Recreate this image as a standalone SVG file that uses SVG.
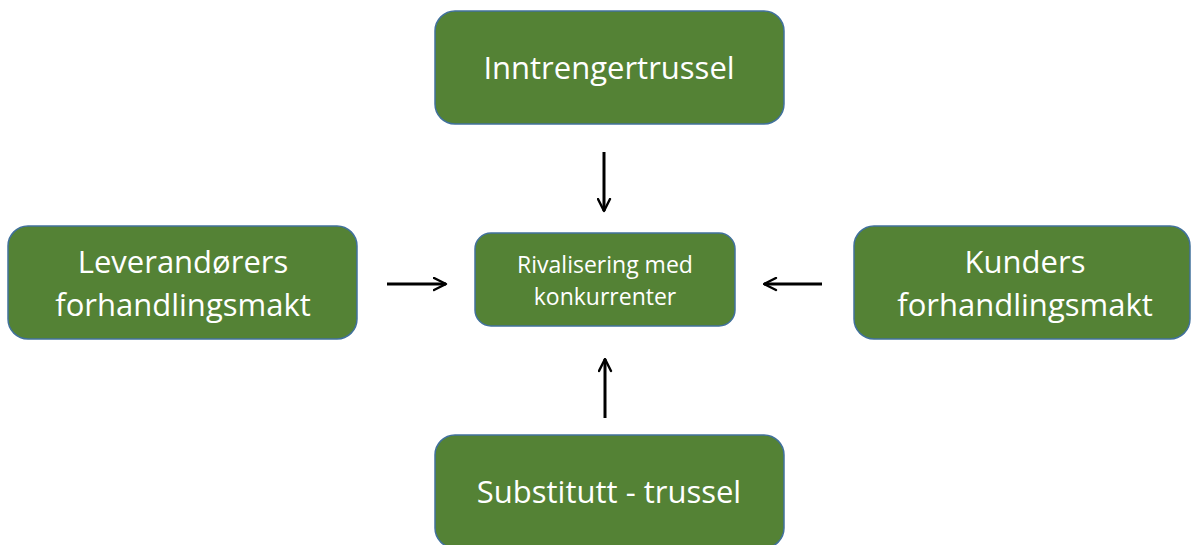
<svg xmlns="http://www.w3.org/2000/svg" width="1191" height="545" viewBox="0 0 1191 545">
<defs>
<style>
.box{fill:#548235;stroke:#41719C;stroke-width:1.5}
.t{fill:#fff;font-family:"Open Sans","Liberation Sans",sans-serif;text-anchor:middle}
.big{font-size:31px}
.small{font-size:23px}
.arr{stroke:#000;stroke-width:3;fill:none}
</style>
<marker id="ah" viewBox="0 0 10 10" refX="9" refY="5" markerWidth="5" markerHeight="5" orient="auto" markerUnits="strokeWidth">
<path d="M1,1 L9,5 L1,9" fill="none" stroke="#000" stroke-width="1.6" stroke-linecap="round" stroke-linejoin="round"/>
</marker>
</defs>
<rect width="1191" height="545" fill="#fff"/>
<g id="n-top"><rect class="box" x="435" y="11" width="349" height="113" rx="20"/><text class="t big" x="609" y="79">Inntrengertrussel</text></g>
<g id="n-left"><rect class="box" x="8" y="226" width="349" height="113" rx="20"/><text class="t big" x="183" y="273">Leverandørers</text><text class="t big" x="183" y="316">forhandlingsmakt</text></g>
<g id="n-center"><rect class="box" x="475" y="233" width="260" height="93" rx="16"/><text class="t small" x="605" y="273">Rivalisering med</text><text class="t small" x="605" y="305">konkurrenter</text></g>
<g id="n-right"><rect class="box" x="854" y="226" width="336" height="113" rx="20"/><text class="t big" x="1025" y="273">Kunders</text><text class="t big" x="1025" y="316">forhandlingsmakt</text></g>
<g id="n-bottom"><rect class="box" x="435" y="435" width="349" height="113" rx="20"/><text class="t big" x="609" y="503">Substitutt - trussel</text></g>
<g id="connectors">
<line class="arr" x1="604" y1="152" x2="604" y2="211" marker-end="url(#ah)"/>
<line class="arr" x1="387" y1="284" x2="446" y2="284" marker-end="url(#ah)"/>
<line class="arr" x1="822" y1="284" x2="764" y2="284" marker-end="url(#ah)"/>
<line class="arr" x1="605" y1="418" x2="605" y2="359" marker-end="url(#ah)"/>
</g>
</svg>
